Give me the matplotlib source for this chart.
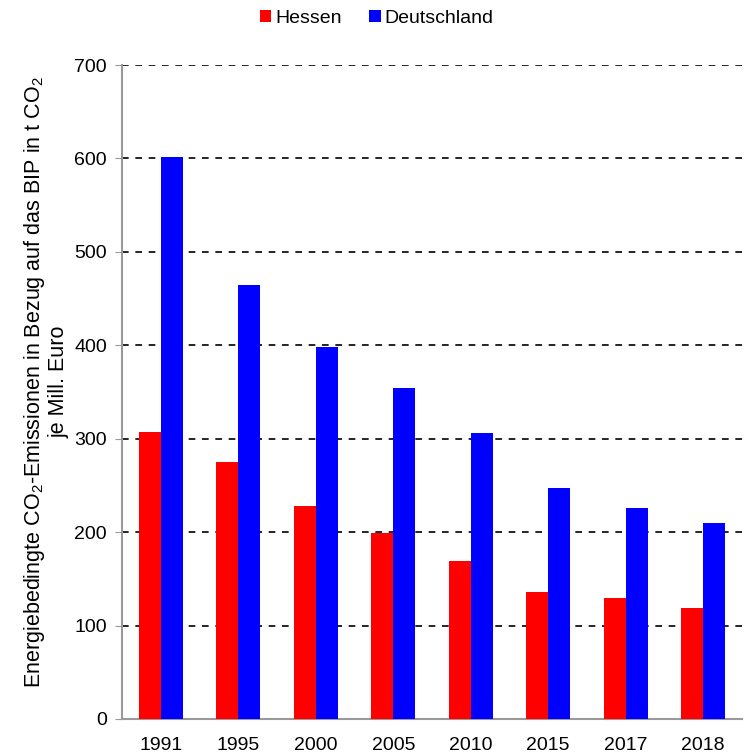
import numpy as np
import matplotlib.pyplot as plt

plt.rcParams['font.family'] = ['Liberation Sans', 'DejaVu Sans']
plt.rcParams['mathtext.fontset'] = 'custom'
plt.rcParams['mathtext.rm'] = 'Liberation Sans'

years = ['1991', '1995', '2000', '2005', '2010', '2015', '2017', '2018']
hessen = [307, 275, 228, 199, 169, 136, 129, 119]
deutschland = [602, 465, 398, 354, 306, 247, 226, 210]

x = np.arange(len(years))
w = 0.285

fig = plt.figure(figsize=(7.5, 7.56), dpi=100)
ax = fig.add_axes([0.163, 0.049, 0.826, 0.865])

ax.bar(x - w / 2, hessen, w, color='#ff0000', label='Hessen', zorder=3)
ax.bar(x + w / 2, deutschland, w, color='#0000ff', label='Deutschland', zorder=3)

ax.set_xlim(-0.5, len(years) - 0.5)
ax.set_ylim(0, 700)
ax.set_yticks(range(0, 701, 100))
ax.set_xticks(x)
ax.set_xticklabels(years, fontsize=14)
ax.tick_params(axis='x', length=0, pad=13)
ax.tick_params(axis='y', labelsize=14, length=5, color='#999999', pad=6)

ax.yaxis.grid(True, linestyle=(0, (4, 4)), color='black', linewidth=1.2, zorder=0)
for s in ['top', 'right']:
    ax.spines[s].set_visible(False)
for s in ['left', 'bottom']:
    ax.spines[s].set_color('#999999')
    ax.spines[s].set_linewidth(1.5)

ax.set_ylabel('Energiebedingte CO$_2$-Emissionen in Bezug auf das BIP in t CO$_2$\nje Mill. Euro',
              fontsize=15.5, labelpad=3, linespacing=1.15)
ax.yaxis.label.set_y(0.515)

fig.legend(loc='upper center', bbox_to_anchor=(0.502, 1.01), ncol=2, frameon=False,
           fontsize=14, handlelength=0.6, handleheight=0.6, handletextpad=0.2,
           columnspacing=1.4)

fig.savefig('out.png', dpi=100)
